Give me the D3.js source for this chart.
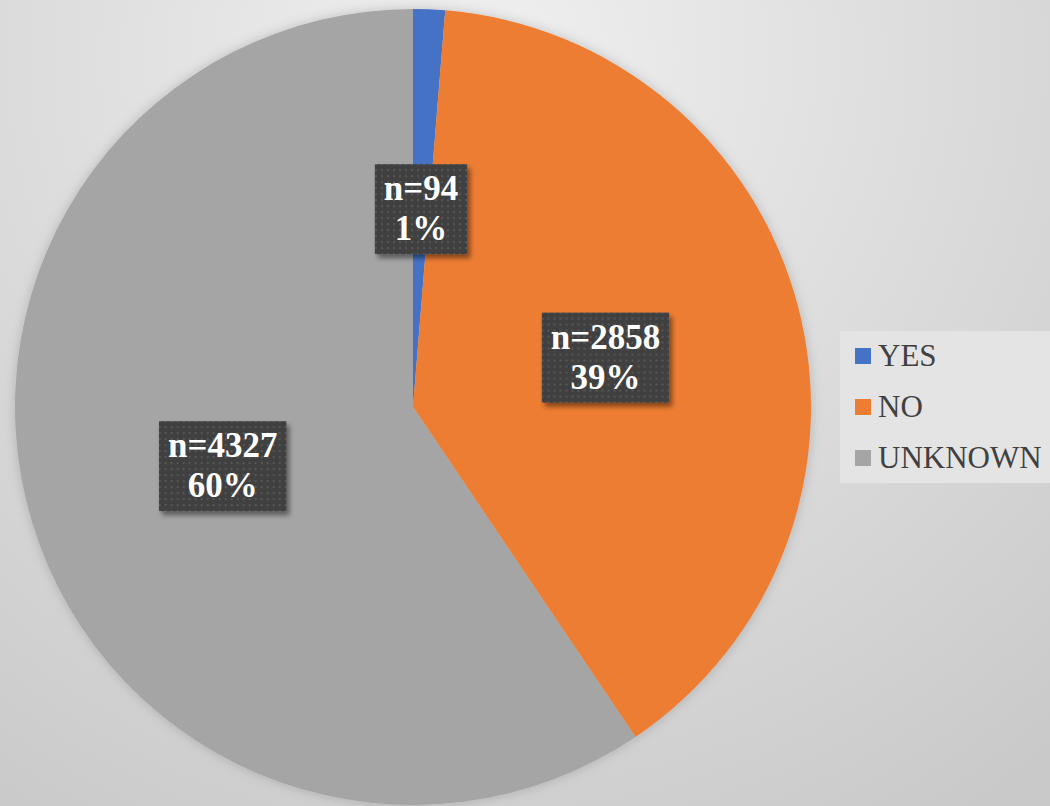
<!DOCTYPE html>
<html>
<head>
<meta charset="utf-8">
<script src="https://cdn.jsdelivr.net/npm/d3@7"></script>
<style>
	body { margin: 0; overflow: hidden; }
	svg { display: block; }
	.serif { font-family: "Times New Roman", "Liberation Serif", Times, serif; }
</style>
</head>
<body>
<svg width="1050" height="806"></svg>
<script>
var categories = ["YES", "NO", "UNKNOWN"];
var counts = [94, 2858, 4327];
var percents = ["1%", "39%", "60%"];
var colors = ["#4472C4", "#ED7D31", "#A5A5A5"];

var svg = d3.select("svg"),
	width = +svg.attr("width"),
	height = +svg.attr("height"),
	radius = 398,
	cx = 413,
	cy = 407;

var defs = svg.append("defs");

// background gradient
var bg = defs.append("radialGradient")
	.attr("id", "bgGrad")
	.attr("gradientUnits", "userSpaceOnUse")
	.attr("cx", 480).attr("cy", 60).attr("r", 900);
bg.append("stop").attr("offset", "0").attr("stop-color", "#f0f0f0");
bg.append("stop").attr("offset", "1").attr("stop-color", "#c9c9c9");

// dotted texture for label boxes
var pat = defs.append("pattern")
	.attr("id", "dots")
	.attr("patternUnits", "userSpaceOnUse")
	.attr("width", 6).attr("height", 6);
pat.append("rect").attr("width", 6).attr("height", 6).attr("fill", "#404040");
pat.append("rect").attr("x", 2).attr("y", 2).attr("width", 2).attr("height", 2).attr("fill", "#575757");

var pieShadow = defs.append("filter").attr("id", "pieShadow")
	.attr("x", "-10%").attr("y", "-10%").attr("width", "120%").attr("height", "120%");
pieShadow.append("feDropShadow")
	.attr("dx", 0).attr("dy", 0).attr("stdDeviation", 6)
	.attr("flood-color", "#000").attr("flood-opacity", 0.18);

var boxShadow = defs.append("filter").attr("id", "boxShadow")
	.attr("x", "-20%").attr("y", "-20%").attr("width", "140%").attr("height", "140%");
boxShadow.append("feDropShadow")
	.attr("dx", 3).attr("dy", 4).attr("stdDeviation", 2.5)
	.attr("flood-color", "#000").attr("flood-opacity", 0.45);

svg.append("rect")
	.attr("width", width).attr("height", height)
	.attr("fill", "url(#bgGrad)");

var data = categories.map(function(c, i) {
	return { cat: c, n: counts[i], pct: percents[i], color: colors[i] };
});

var pie = d3.pie()
	.sort(null)
	.value(function(d) { return d.n; });

var path = d3.arc()
	.outerRadius(radius)
	.innerRadius(0);

var g = svg.append("g")
	.attr("transform", "translate(" + cx + "," + cy + ")");

g.append("g")
	.attr("filter", "url(#pieShadow)")
	.selectAll("path")
	.data(pie(data))
	.enter().append("path")
	.attr("d", path)
	.attr("fill", function(d) { return d.data.color; });

// data labels
var labels = g.selectAll(".lbl")
	.data(pie(data))
	.enter().append("g")
	.attr("class", "lbl")
	.attr("transform", function(d) {
		var c = path.centroid(d);
		return "translate(" + c[0] + "," + (c[1] + 1) + ")";
	});

labels.each(function(d) {
	var sel = d3.select(this);
	var box = sel.append("rect").attr("fill", "url(#dots)").attr("filter", "url(#boxShadow)");
	var t = sel.append("text")
		.attr("class", "serif")
		.attr("text-anchor", "middle")
		.style("font-weight", "bold")
		.style("font-size", "35px")
		.attr("fill", "#fff");
	t.append("tspan").attr("x", 0).attr("y", -9).text("n=" + d.data.n);
	t.append("tspan").attr("x", 0).attr("y", 31).text(d.data.pct);
	var w = t.node().getBBox().width + 18;
	box.attr("x", -w / 2).attr("y", -45).attr("width", w).attr("height", 90);
});

// legend
var leg = svg.append("g").attr("transform", "translate(840,331)");
leg.append("rect")
	.attr("width", 214).attr("height", 152)
	.attr("fill", "#e4e4e4");

var items = leg.selectAll(".legend")
	.data(data)
	.enter().append("g")
	.attr("class", "legend")
	.attr("transform", function(d, i) { return "translate(15," + (17 + i * 51) + ")"; });

items.append("rect")
	.attr("width", 16).attr("height", 16)
	.attr("fill", function(d) { return d.color; });

items.append("text")
	.attr("class", "serif")
	.attr("x", 23)
	.attr("y", 18)
	.style("font-size", "31px")
	.attr("fill", "#404040")
	.text(function(d) { return d.cat; });
</script>
</body>
</html>
